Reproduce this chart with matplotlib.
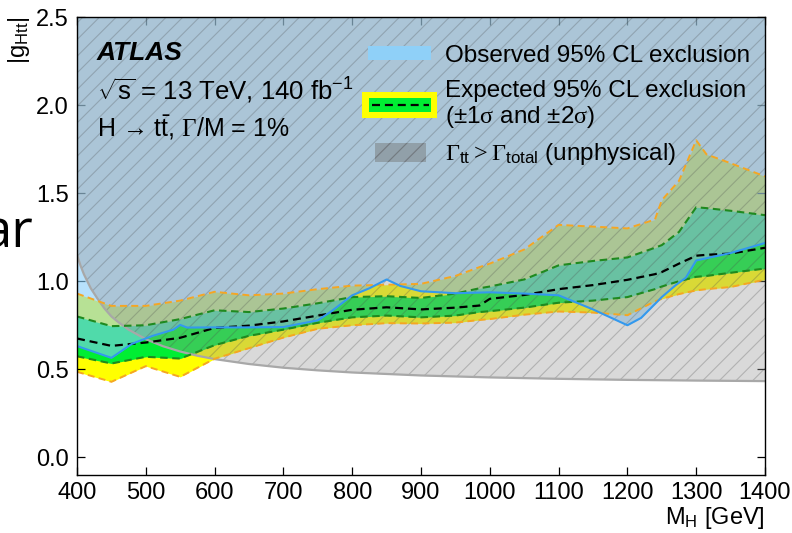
import matplotlib
matplotlib.use("Agg")
import matplotlib.pyplot as plt
from matplotlib.patches import Rectangle
from matplotlib.lines import Line2D
from matplotlib.ticker import FormatStrFormatter, MultipleLocator

plt.rcParams["font.family"] = ["Liberation Sans", "DejaVu Sans"]
plt.rcParams["mathtext.fontset"] = "custom"
plt.rcParams["mathtext.rm"] = "Liberation Sans"
plt.rcParams["mathtext.it"] = "Liberation Sans:italic"
plt.rcParams["mathtext.bf"] = "Liberation Sans:bold"
plt.rcParams["mathtext.sf"] = "Liberation Serif"
plt.rcParams["hatch.linewidth"] = 0.8

# ---- expected limit bands (mass in GeV, |g_Htt|) ----
mass_exp = [400, 450, 500, 550, 600, 650, 700, 750, 800, 850, 900, 950, 985,
            1000, 1050, 1100, 1150, 1200, 1240, 1250, 1275, 1300, 1315, 1350, 1400]
exp_up2 = [0.93, 0.86, 0.86, 0.89, 0.94, 0.92, 0.93, 0.955, 0.975, 0.98, 0.985, 1.03, 1.08,
           1.10, 1.18, 1.32, 1.31, 1.30, 1.35, 1.46, 1.57, 1.80, 1.72, 1.67, 1.595]
exp_up1 = [0.80, 0.745, 0.75, 0.785, 0.835, 0.825, 0.845, 0.875, 0.91, 0.915, 0.905, 0.93, 0.96,
           0.97, 1.01, 1.09, 1.115, 1.135, 1.19, 1.205, 1.28, 1.42, 1.415, 1.40, 1.375]
exp_med = [0.675, 0.633, 0.652, 0.679, 0.735, 0.748, 0.772, 0.805, 0.838, 0.852, 0.84, 0.85, 0.862,
           0.90, 0.922, 0.955, 0.978, 1.008, 1.04, 1.052, 1.10, 1.145, 1.15, 1.157, 1.19]
exp_lo1 = [0.574, 0.533, 0.571, 0.561, 0.637, 0.69, 0.725, 0.764, 0.795, 0.805, 0.795, 0.805, 0.825,
           0.83, 0.85, 0.878, 0.89, 0.91, 0.955, 0.97, 1.00, 1.025, 1.03, 1.048, 1.072]
exp_lo2 = [0.486, 0.429, 0.518, 0.457, 0.56, 0.62, 0.68, 0.73, 0.75, 0.762, 0.76, 0.765, 0.78,
           0.785, 0.81, 0.828, 0.822, 0.807, 0.886, 0.90, 0.927, 0.948, 0.955, 0.967, 1.009]

# ---- observed limit ----
mass_obs = [400, 450, 480, 510, 540, 550, 560, 600, 650, 700, 750, 770, 800, 825, 850, 870,
            900, 950, 1000, 1050, 1100, 1150, 1200, 1220, 1250, 1270, 1285, 1300, 1350, 1400]
obs_lim = [0.632, 0.565, 0.645, 0.69, 0.725, 0.752, 0.737, 0.738, 0.738, 0.74, 0.778, 0.83,
           0.92, 0.96, 1.01, 0.973, 0.943, 0.932, 0.937, 0.93, 0.92, 0.84, 0.75, 0.792,
           0.91, 0.977, 1.02, 1.118, 1.16, 1.217]

# ---- unphysical boundary: Gamma_tt = Gamma_total ----
mass_phys = [400, 405, 410, 420, 430, 440, 450, 460, 475, 500, 525, 550, 575, 600, 650,
             700, 750, 800, 900, 1000, 1100, 1200, 1300, 1400]
g_phys = [1.15, 1.09, 1.04, 0.96, 0.90, 0.845, 0.80, 0.768, 0.725, 0.671, 0.631, 0.601, 0.577,
          0.558, 0.53, 0.509, 0.494, 0.482, 0.465, 0.454, 0.446, 0.44, 0.436, 0.433]

x_ticks = [400, 500, 600, 700, 800, 900, 1000, 1100, 1200, 1300, 1400]
y_range = (-0.1, 2.5)

YELLOW = "#ffff00"
GREEN = "#00ee33"
OBS_FILL = "#87cefa"
OBS_LINE = "#3399ee"
ORANGE = "#f5a623"
DGREEN = "#1f8a1f"
GRAY = "#969696"
HATCH = (0.3, 0.3, 0.3, 0.28)

fig = plt.figure(figsize=(7.92, 5.33), dpi=100)
ax = fig.add_axes([77 / 792, 1 - 475 / 533, 688 / 792, 458 / 533])
top = y_range[1]

ax.fill_between(mass_exp, exp_lo2, exp_up2, color=YELLOW, lw=0, zorder=1)
ax.fill_between(mass_exp, exp_lo1, exp_up1, color=GREEN, lw=0, zorder=2)
ax.fill_between(mass_obs, obs_lim, top, color=OBS_FILL, alpha=0.6, lw=0, zorder=3)
ax.fill_between(mass_phys, g_phys, top, color=GRAY, alpha=0.36, lw=0, zorder=4)
ax.fill_between(mass_phys, g_phys, top, facecolor="none",
                edgecolor=HATCH, hatch="//", lw=0, zorder=4.5)
ax.plot(mass_phys, g_phys, color="#a8a8a8", lw=1.6, zorder=4.6)

dash = (0, (3.6, 2.2))
ax.plot(mass_exp, exp_up2, color=ORANGE, lw=1.4, ls=dash, zorder=6)
ax.plot(mass_exp, exp_lo2, color=ORANGE, lw=1.4, ls=dash, zorder=6)
ax.plot(mass_exp, exp_up1, color=DGREEN, lw=1.5, ls=dash, zorder=6)
ax.plot(mass_exp, exp_lo1, color=DGREEN, lw=1.5, ls=dash, zorder=6)
ax.plot(mass_exp, exp_med, color="black", lw=1.6, ls=dash, zorder=6)
ax.plot(mass_obs, obs_lim, color=OBS_LINE, lw=1.5, zorder=7)

ax.set_xlim(x_ticks[0], x_ticks[-1])
ax.set_ylim(*y_range)
ax.set_xticks(x_ticks)
ax.yaxis.set_major_locator(MultipleLocator(0.5))
ax.yaxis.set_major_formatter(FormatStrFormatter("%.1f"))
ax.tick_params(which="both", direction="in", top=True, right=True,
               length=6, width=0.9, labelsize=17)
ax.tick_params(axis="x", pad=5)
ax.tick_params(axis="y", pad=6)
for s in ax.spines.values():
    s.set_linewidth(1.0)
    s.set_zorder(10)

ax.set_xlabel(r"M$_{\mathrm{H}}$ [GeV]", fontsize=17, loc="right", labelpad=1)
ax.set_ylabel(r"|g$_{\mathrm{Htt}}$|", fontsize=17, loc="top", labelpad=3)

# ATLAS label block
tr = ax.transAxes
ax.text(0.029, 0.906, "ATLAS", transform=tr, fontsize=19, fontweight="bold",
        fontstyle="italic", va="baseline", zorder=11)
ax.text(0.029, 0.819, r"$\sqrt{\mathrm{s}}$ = 13 TeV, 140 fb$^{-1}$", transform=tr,
        fontsize=18.5, va="baseline", zorder=11)
ax.text(0.029, 0.738, "H \u2192 t" + r"$\bar{\mathrm{t}}$, $\mathsf{\Gamma}$/M = 1%",
        transform=tr, fontsize=18, va="baseline", zorder=11)

# legend
def axfrac(xp, yp):
    return ((xp - 77) / 688, (475 - yp) / 458)

def box(x0, y0, x1, y1, **kw):
    a = axfrac(x0, y1)
    b = axfrac(x1, y0)
    ax.add_patch(Rectangle(a, b[0] - a[0], b[1] - a[1], transform=tr, zorder=11, **kw))

box(368, 46, 431, 60, facecolor="#8fd0f8", lw=0)
box(362, 92, 437, 118, facecolor=YELLOW, lw=0)
box(369, 98, 431, 112, facecolor=GREEN, lw=0)
p0, p1 = axfrac(372, 105), axfrac(429, 105)
ax.add_line(Line2D([p0[0], p1[0]], [p0[1], p1[1]], transform=tr, color="black",
                   lw=1.6, ls=dash, zorder=12))
box(375, 143, 426, 162, facecolor=(0.45, 0.45, 0.45, 0.45),
    edgecolor=HATCH, hatch="//", lw=0)

lx = axfrac(445, 0)[0]
ax.text(lx, axfrac(0, 62)[1], "Observed 95% CL exclusion", transform=tr,
        fontsize=17.5, va="baseline", zorder=11)
ax.text(lx, axfrac(0, 97)[1], "Expected 95% CL exclusion", transform=tr,
        fontsize=17.5, va="baseline", zorder=11)
ax.text(lx, axfrac(0, 123)[1], r"($\pm$1$\mathsf{\sigma}$ and $\pm$2$\mathsf{\sigma}$)",
        transform=tr, fontsize=17.5, va="baseline", zorder=11)
ax.text(lx, axfrac(0, 160)[1],
        r"$\mathsf{\Gamma}_{\mathrm{tt}}\mathsf{>}\mathsf{\Gamma}_{\mathrm{total}}$ (unphysical)",
        transform=tr, fontsize=17.5, va="baseline", zorder=11)

fig.text(33 / 792, 1 - 247 / 533, "ar", fontsize=38, family="Open Sans",
         ha="right", va="baseline")

fig.savefig("out.png", dpi=100)
